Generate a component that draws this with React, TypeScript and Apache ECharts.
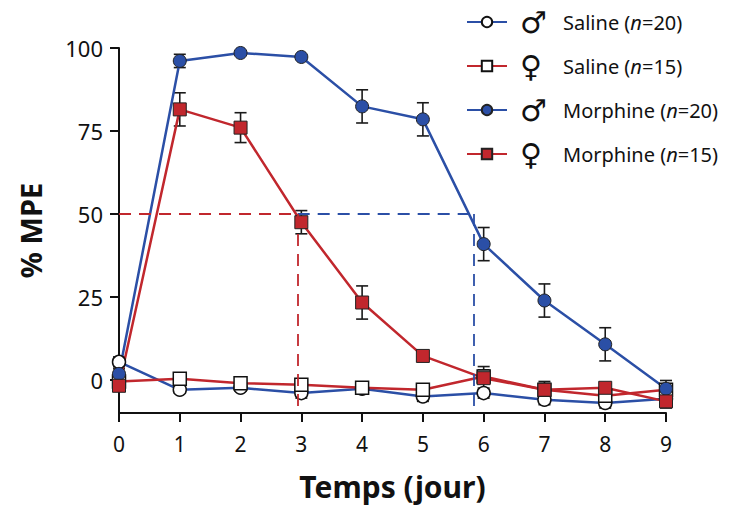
import React, { useEffect, useRef } from "react";
import * as echarts from "echarts";

const days = [0, 1, 2, 3, 4, 5, 6, 7, 8, 9];
const yTicks = [0, 25, 50, 75, 100];

const salineMale = [5.4, -3, -2.4, -4, -2.7, -5, -4, -6, -7, -5.7];
const salineMaleErr = [1.5, 1, 1, 1.5, 1, 1.5, 1.5, 1.5, 1.5, 1.5];
const salineFemale = [-0.5, 0.3, -1, -1.5, -2.4, -3, 1, -3, -4.8, -3];
const salineFemaleErr = [1.5, 1.5, 1.5, 1.5, 1.5, 1.5, 2, 1.5, 1.5, 1.5];
const morphineMale = [1.8, 96.1, 98.5, 97.3, 82.4, 78.5, 40.9, 23.9, 10.7, -2.7];
const morphineMaleErr = [1.5, 2, 0.5, 0.5, 5, 5, 5, 5, 5, 2.5];
const morphineFemale = [-1.8, 81.5, 76, 47.5, 23.3, 7.2, 0.5, -3, -2.4, -6.5];
const morphineFemaleErr = [1.5, 5, 4.5, 3.5, 5, 1.5, 3.5, 2.5, 1, 2];

const halfLifeFemale = 2.94;
const halfLifeMale = 5.83;
const halfLevel = 50;

const seriesNames = ["SalineM", "SalineF", "MorphineM", "MorphineF"];
const legendSex = ["♂", "♀", "♂", "♀"];
const legendGroup = ["Saline", "Saline", "Morphine", "Morphine"];
const legendN = [20, 15, 20, 15];

const BLUE = "#2b4fa6";
const RED = "#c1272d";
const FONT = "Noto Sans";

function errSeries(vals: number[], errs: number[]) {
  return {
    type: "custom",
    z: 1,
    silent: true,
    renderItem: (params: any, api: any) => {
      const x = api.value(0);
      const lo = api.coord([x, api.value(1)]);
      const hi = api.coord([x, api.value(2)]);
      const hw = 6;
      const st = { stroke: "#1a1a1a", lineWidth: 1.6 };
      return {
        type: "group",
        children: [
          { type: "line", shape: { x1: hi[0], y1: hi[1], x2: lo[0], y2: lo[1] }, style: st },
          { type: "line", shape: { x1: hi[0] - hw, y1: hi[1], x2: hi[0] + hw, y2: hi[1] }, style: st },
          { type: "line", shape: { x1: lo[0] - hw, y1: lo[1], x2: lo[0] + hw, y2: lo[1] }, style: st },
        ],
      };
    },
    encode: { x: 0, y: [1, 2] },
    data: days.map((d, i) => [d, vals[i] - errs[i], vals[i] + errs[i]]),
  };
}

function lineSeries(name: string, vals: number[], color: string, symbol: string, filled: boolean, markLine?: any) {
  return {
    name,
    type: "line",
    z: 3,
    data: days.map((d, i) => [d, vals[i]]),
    symbol,
    symbolSize: 13,
    showAllSymbol: true,
    lineStyle: { color, width: 2.5 },
    itemStyle: filled
      ? { color, borderColor: "#222", borderWidth: 1 }
      : { color: "#ffffff", borderColor: "#111", borderWidth: 1.5 },
    emphasis: { disabled: true },
    markLine,
  };
}

function dashLine(color: string, x0: number, x1: number) {
  return {
    silent: true,
    symbol: "none",
    label: { show: false },
    lineStyle: { color, type: [12, 8], width: 1.8 },
    data: [
      [{ coord: [x0, halfLevel] }, { coord: [x1, halfLevel] }],
      [{ coord: [x1, halfLevel] }, { coord: [x1, -10] }],
    ],
  };
}

export default function App() {
  const ref = useRef<HTMLDivElement>(null);
  useEffect(() => {
    if (!ref.current) return;
    const chart = echarts.init(ref.current, undefined, { renderer: "svg" });
    chart.setOption({
      animation: false,
      backgroundColor: "#ffffff",
      grid: { left: 119, right: 70, top: 48, bottom: 91 },
      legend: {
        data: seriesNames,
        orient: "vertical",
        left: 461,
        top: 0,
        itemWidth: 40,
        itemHeight: 13,
        itemGap: 10,
        selectedMode: false,
        formatter: (name: string) => {
          const i = seriesNames.indexOf(name);
          return `{g|${legendSex[i]}}{t|${legendGroup[i]} (}{i|n}{t|=${legendN[i]})}`;
        },
        textStyle: {
          lineHeight: 34,
          rich: {
            g: { fontFamily: "DejaVu Sans", fontSize: 30, color: "#111", width: 43, align: "left", lineHeight: 34, height: 34, padding: [0, 0, 0, 8] },
            t: { fontFamily: FONT, fontSize: 20, color: "#111", lineHeight: 34 },
            i: { fontFamily: FONT, fontSize: 20, fontStyle: "italic", color: "#111", lineHeight: 34 },
          },
        },
      },
      xAxis: {
        type: "value",
        min: 0,
        max: 9,
        interval: 1,
        name: "Temps (jour)",
        nameLocation: "middle",
        nameGap: 58,
        nameTextStyle: { fontFamily: FONT, fontSize: 30, fontWeight: "bold", color: "#111" },
        axisLine: { show: true, onZero: false, lineStyle: { color: "#111", width: 2 } },
        axisTick: { show: true, length: 9, lineStyle: { color: "#111", width: 2 } },
        axisLabel: { fontFamily: FONT, fontSize: 21, color: "#111", margin: 20 },
        splitLine: { show: false },
      },
      yAxis: {
        type: "value",
        min: -10,
        max: 100,
        name: "% MPE",
        nameLocation: "middle",
        nameGap: 74,
        nameTextStyle: { fontFamily: FONT, fontSize: 29, fontWeight: "bold", color: "#111" },
        axisLine: { show: true, onZero: false, lineStyle: { color: "#111", width: 2 } },
        axisTick: { show: true, length: 9, lineStyle: { color: "#111", width: 2 }, customValues: yTicks },
        axisLabel: { fontFamily: FONT, fontSize: 22, color: "#111", margin: 16, customValues: yTicks },
        splitLine: { show: false },
      },
      series: [
        errSeries(salineMale, salineMaleErr),
        errSeries(salineFemale, salineFemaleErr),
        errSeries(morphineMale, morphineMaleErr),
        errSeries(morphineFemale, morphineFemaleErr),
        lineSeries("SalineM", salineMale, BLUE, "circle", false),
        lineSeries("SalineF", salineFemale, RED, "rect", false),
        lineSeries("MorphineM", morphineMale, BLUE, "circle", true, dashLine(BLUE, halfLifeFemale, halfLifeMale)),
        lineSeries("MorphineF", morphineFemale, RED, "rect", true, dashLine(RED, 0, halfLifeFemale)),
      ],
    });
    return () => chart.dispose();
  }, []);
  return (
    <div
      ref={ref}
      style={{ position: "fixed", left: 0, top: 0, width: 736, height: 506, background: "#fff" }}
    />
  );
}
